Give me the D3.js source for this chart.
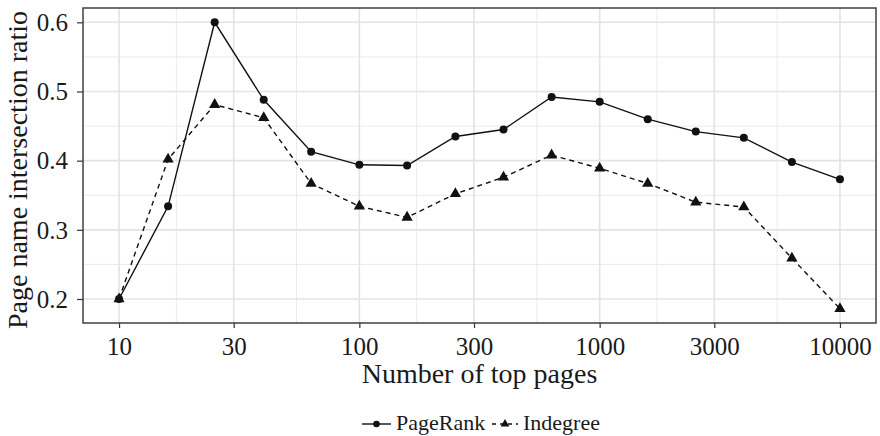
<!DOCTYPE html>
<html>
<head>
<meta charset="utf-8">
<script src="https://cdn.jsdelivr.net/npm/d3@7"></script>
<style>
  body { margin: 0; background: #fff; }
</style>
</head>
<body>
<div id="chart"></div>
<script>
const pages = [10, 16, 25, 40, 63, 100, 158, 251, 398, 631, 1000, 1585, 2512, 3981, 6310, 10000];
const pageRank = [0.200, 0.334, 0.600, 0.488, 0.413, 0.394, 0.393, 0.435, 0.445, 0.492, 0.485, 0.460, 0.442, 0.433, 0.398, 0.373];
const indegree = [0.200, 0.402, 0.481, 0.462, 0.367, 0.334, 0.318, 0.352, 0.376, 0.408, 0.389, 0.367, 0.340, 0.333, 0.259, 0.186];
const xTicks = [10, 30, 100, 300, 1000, 3000, 10000];
const yTicks = [0.2, 0.3, 0.4, 0.5, 0.6];

const width = 880, height = 436;
const margin = { top: 8, right: 4, bottom: 113, left: 83 };
const serif = "Liberation Serif";

const svg = d3.select("#chart").append("svg")
  .attr("width", width).attr("height", height)
  .attr("font-family", serif);

function label(sel, size) {
  return sel.attr("font-family", serif).attr("font-size", size)
    .style("font-family", `"${serif}"`).style("font-size", `${size}px`)
    .attr("fill", "#1a1a1a");
}

// ggplot-style 5% expansion
const lx = d3.extent(pages, d => Math.log10(d));
const padX = (lx[1] - lx[0]) * 0.05;
const x = d3.scaleLog()
  .domain([10 ** (lx[0] - padX), 10 ** (lx[1] + padX)])
  .range([margin.left, width - margin.right]);

const ey = d3.extent(pageRank.concat(indegree));
const padY = (ey[1] - ey[0]) * 0.05;
const y = d3.scaleLinear()
  .domain([ey[0] - padY, ey[1] + padY])
  .range([height - margin.bottom, margin.top]);

const x0 = margin.left, x1 = width - margin.right;
const y0 = height - margin.bottom, y1 = margin.top;

// minor grid (midpoints between majors in transformed space)
const xMinor = d3.pairs(xTicks).map(([a, b]) => Math.sqrt(a * b));
const yMinor = d3.pairs(yTicks).map(([a, b]) => (a + b) / 2);

const grid = svg.append("g");
grid.selectAll("line.xmin").data(xMinor).join("line")
  .attr("x1", d => x(d)).attr("x2", d => x(d)).attr("y1", y0).attr("y2", y1)
  .attr("stroke", "#ebebeb").attr("stroke-width", 1);
grid.selectAll("line.ymin").data(yMinor).join("line")
  .attr("y1", d => y(d)).attr("y2", d => y(d)).attr("x1", x0).attr("x2", x1)
  .attr("stroke", "#ebebeb").attr("stroke-width", 1);
grid.selectAll("line.xmaj").data(xTicks).join("line")
  .attr("x1", d => x(d)).attr("x2", d => x(d)).attr("y1", y0).attr("y2", y1)
  .attr("stroke", "#e3e3e3").attr("stroke-width", 1.6);
grid.selectAll("line.ymaj").data(yTicks).join("line")
  .attr("y1", d => y(d)).attr("y2", d => y(d)).attr("x1", x0).attr("x2", x1)
  .attr("stroke", "#e3e3e3").attr("stroke-width", 1.6);

// lines
const line = d3.line().x(d => x(d[0])).y(d => y(d[1]));
svg.append("path")
  .datum(d3.zip(pages, pageRank))
  .attr("d", line).attr("fill", "none")
  .attr("stroke", "#111").attr("stroke-width", 1.4);
svg.append("path")
  .datum(d3.zip(pages, indegree))
  .attr("d", line).attr("fill", "none")
  .attr("stroke", "#111").attr("stroke-width", 1.4)
  .attr("stroke-dasharray", "5,4");

// markers
const tri = d3.symbol(d3.symbolTriangle, 55);
svg.selectAll("circle.pr").data(d3.zip(pages, pageRank)).join("circle")
  .attr("cx", d => x(d[0])).attr("cy", d => y(d[1])).attr("r", 4)
  .attr("fill", "#111");
svg.selectAll("path.in").data(d3.zip(pages, indegree)).join("path")
  .attr("d", tri)
  .attr("transform", d => `translate(${x(d[0])},${y(d[1])})`)
  .attr("fill", "#111");

// panel border
svg.append("rect")
  .attr("x", x0).attr("y", y1).attr("width", x1 - x0).attr("height", y0 - y1)
  .attr("fill", "none").attr("stroke", "#333").attr("stroke-width", 1.4);

// axes
const xAxis = svg.append("g")
  .attr("transform", `translate(0,${y0})`)
  .call(d3.axisBottom(x).tickValues(xTicks).tickFormat(d3.format("d")).tickSize(5).tickPadding(6));
const yAxis = svg.append("g")
  .attr("transform", `translate(${x0},0)`)
  .call(d3.axisLeft(y).tickValues(yTicks).tickFormat(d3.format(".1f")).tickSize(6).tickPadding(9));
[xAxis, yAxis].forEach(g => {
  g.attr("font-family", serif).attr("font-size", 25);
  g.select(".domain").remove();
  g.selectAll(".tick line").attr("stroke", "#333").attr("stroke-width", 1.2);
  label(g.selectAll(".tick text"), 25);
});
xAxis.selectAll(".tick text").attr("dy", null).attr("y", 32);
yAxis.selectAll(".tick text").attr("dy", "0.33em");

// titles
label(svg.append("text"), 28)
  .attr("x", (x0 + x1) / 2).attr("y", 383)
  .attr("text-anchor", "middle")
  .text("Number of top pages");
label(svg.append("text"), 28)
  .attr("transform", `translate(27,170) rotate(-90)`)
  .attr("text-anchor", "middle")
  .text("Page name intersection ratio");

// legend
const legend = svg.append("g").attr("transform", "translate(362,424)");
const items = [
  { name: "PageRank", dash: null, shape: "circle", off: 0, len: 29 },
  { name: "Indegree", dash: "4,4", shape: "tri", off: 130, len: 26 }
];
items.forEach(it => {
  const g = legend.append("g").attr("transform", `translate(${it.off},0)`);
  g.append("line").attr("x1", 0).attr("x2", it.len).attr("y1", 0).attr("y2", 0)
    .attr("stroke", "#111").attr("stroke-width", 1.4)
    .attr("stroke-dasharray", it.dash);
  if (it.shape === "circle") {
    g.append("circle").attr("cx", it.len / 2).attr("cy", 0).attr("r", 3.3).attr("fill", "#111");
  } else {
    g.append("path").attr("d", d3.symbol(d3.symbolTriangle, 32))
      .attr("transform", `translate(${it.len / 2},0)`).attr("fill", "#111");
  }
  label(g.append("text"), 22).attr("x", it.len + 5).attr("y", 6).text(it.name);
});
</script>
</body>
</html>
